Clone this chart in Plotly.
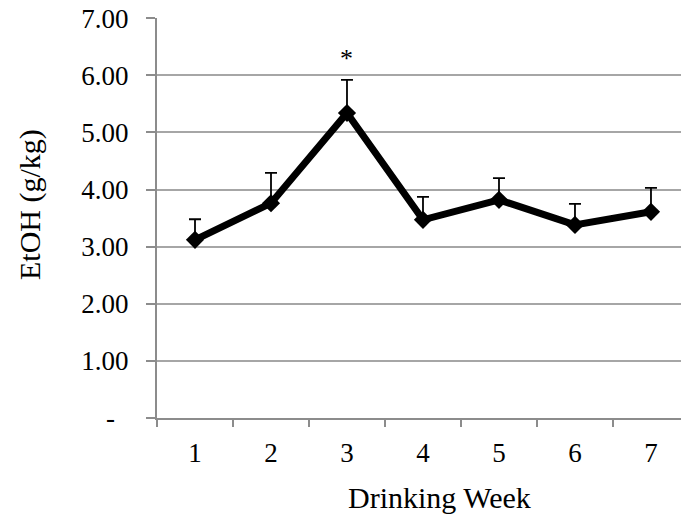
import plotly.graph_objects as go

weeks = ["1", "2", "3", "4", "5", "6", "7"]
etoh = [3.12, 3.76, 5.34, 3.47, 3.82, 3.38, 3.61]
sem = [0.36, 0.53, 0.58, 0.40, 0.38, 0.37, 0.42]
y_ticks = [0, 1, 2, 3, 4, 5, 6, 7]
y_ticktext = ["-\u00a0\u00a0", "1.00", "2.00", "3.00", "4.00", "5.00", "6.00", "7.00"]
x_title = "Drinking Week"
y_title = "EtOH (g/kg)"

FONT = "Liberation Serif"
GRID = "#a6a6a6"
AXIS = "#8c8c8c"

fig = go.Figure()
fig.add_trace(go.Scatter(
    x=weeks, y=etoh, mode="lines+markers",
    line=dict(color="black", width=7),
    marker=dict(symbol="diamond", size=14, color="black"),
    error_y=dict(type="data", symmetric=False, array=sem, arrayminus=[0] * len(sem),
                 color="black", thickness=1.8, width=6),
    showlegend=False,
))

fig.add_annotation(x=2, y=6.3, text="*", showarrow=False,
                   font=dict(family=FONT, size=26, color="black"))

# axis titles placed as annotations (paper coordinates)
fig.add_annotation(xref="paper", yref="paper", x=0.540, y=-0.1975, text=x_title,
                   showarrow=False, xanchor="center", yanchor="middle",
                   font=dict(family=FONT, size=30, color="black"))
fig.add_annotation(xref="paper", yref="paper", x=-0.2424, y=0.535, text=y_title,
                   textangle=-90, showarrow=False, xanchor="center", yanchor="middle",
                   font=dict(family=FONT, size=30, color="black"))

fig.update_layout(
    width=681, height=521,
    margin=dict(l=157, r=0, t=18, b=103, autoexpand=False),
    paper_bgcolor="white", plot_bgcolor="white",
    font=dict(family=FONT, size=24, color="black"),
    xaxis=dict(
        type="category", range=[-0.5, 6.395],
        tickson="boundaries", ticks="outside", ticklen=7, tickcolor=AXIS, tickwidth=2,
        showline=True, linecolor=AXIS, linewidth=2, showgrid=False,
        tickfont=dict(family=FONT, size=27), ticklabelstandoff=10,
        automargin=False,
    ),
    yaxis=dict(
        range=[0, 7.003], tickvals=y_ticks, ticktext=y_ticktext,
        ticks="outside", ticklen=9, tickcolor=AXIS, tickwidth=2,
        showline=True, linecolor=AXIS, linewidth=2,
        showgrid=True, gridcolor=GRID, gridwidth=2, zeroline=False,
        tickfont=dict(family=FONT, size=27), ticklabelstandoff=12,
        ticklabeloverflow="allow",
        automargin=False,
    ),
)

fig.write_html("out.html", config={"displayModeBar": False},
               post_script="document.body.style.margin='0';")
